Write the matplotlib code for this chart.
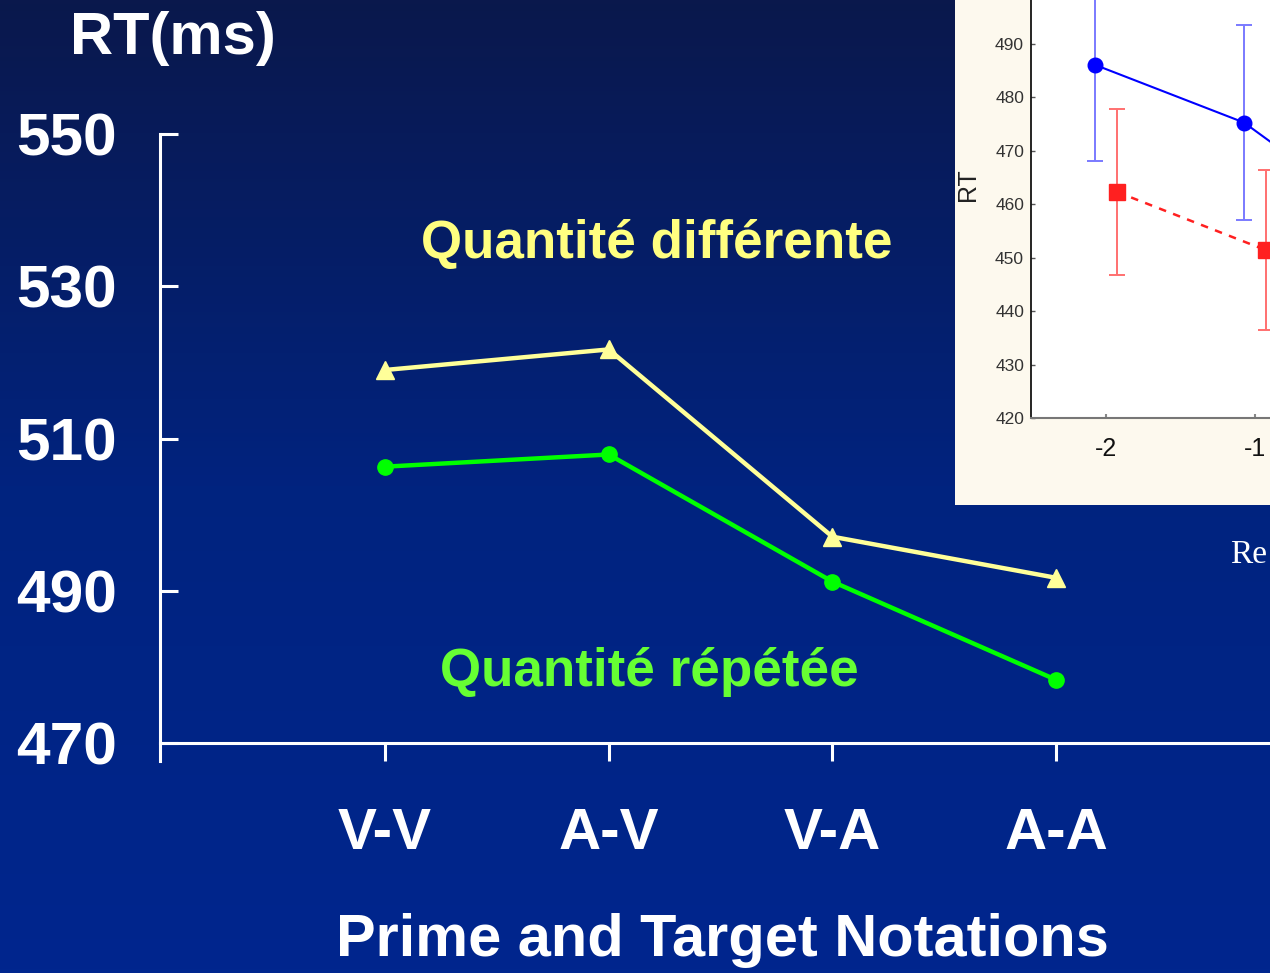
import numpy as np
import matplotlib
matplotlib.use("Agg")
import matplotlib.pyplot as plt
from matplotlib.colors import LinearSegmentedColormap
from matplotlib.patches import Rectangle

plt.rcParams["axes.unicode_minus"] = False

# ---------------- data ----------------
categories = ["V-V", "A-V", "V-A", "A-A"]
rt_different = [519.0, 521.7, 497.1, 491.7]   # Quantité différente
rt_repeated = [506.3, 507.9, 491.2, 478.3]    # Quantité répétée
y_ticks = [470, 490, 510, 530, 550]

# inset (partially visible)
inset_x = [-2, -1, 0]
inset_blue = [486.1, 475.3, 455.0]
inset_blue_err = [18.0, 18.3, 18.0]
inset_red_x = [-2, -1]
inset_red = [462.3, 451.4]
inset_red_err = [15.6, 15.0]
inset_yticks = [420, 430, 440, 450, 460, 470, 480, 490]
inset_xticks = [-2, -1, 0]

W, H = 1270, 973
fig = plt.figure(figsize=(W / 100, H / 100), dpi=100)

# background gradient
bg = fig.add_axes([0, 0, 1, 1], zorder=0)
cmap = LinearSegmentedColormap.from_list("bg", ["#0A184C", "#01237F", "#00268E"])
grad = np.linspace(0, 1, 256).reshape(-1, 1)
bg.imshow(grad, aspect="auto", cmap=cmap, extent=[0, 1, 0, 1], origin="upper")
bg.set_axis_off()

FONT = "Liberation Sans"

# ---------------- main axes ----------------
x0_px, right_px = 160, 1270
top_px, bot_px = 134, 761
ax = fig.add_axes([x0_px / W, 1 - bot_px / H, (right_px - x0_px) / W, (bot_px - top_px) / H], zorder=1)
ax.patch.set_alpha(0)
xs = np.arange(len(categories))
spacing = 223.7
ax.set_xlim(-(385 - x0_px) / spacing, (right_px - 385) / spacing)
px_per_ms = (743 - 134) / 80.0
ax.set_ylim(550 - (bot_px - top_px) / px_per_ms, 550)

ax.plot(xs, rt_different, color="#FFFF99", lw=3.2, marker="^", ms=13, clip_on=False, zorder=3)
ax.plot(xs, rt_repeated, color="#00FF00", lw=3.2, marker="o", ms=11, clip_on=False, zorder=3)

for s in ["top", "right"]:
    ax.spines[s].set_visible(False)
ax.spines["left"].set_color("white")
ax.spines["left"].set_linewidth(2.2)
ax.spines["bottom"].set_color("white")
ax.spines["bottom"].set_linewidth(2.2)
ax.spines["bottom"].set_position(("data", 470))

ax.set_yticks(y_ticks)
ax.set_yticklabels([str(v) for v in y_ticks])
ax.tick_params(axis="y", direction="in", length=13, width=2.2, color="white",
               labelcolor="white", labelsize=43.5, pad=31)
ax.set_xticks(xs)
ax.set_xticklabels(categories)
ax.tick_params(axis="x", direction="out", length=13, width=2.2, color="white",
               labelcolor="white", labelsize=42, pad=33)
for lab in ax.get_xticklabels() + ax.get_yticklabels():
    lab.set_fontfamily(FONT)
    lab.set_fontweight("bold")

fig.text(173 / W, 1 - 38 / H, "RT(ms)", color="white", fontsize=43, fontweight="bold",
         family=FONT, ha="center", va="center")
fig.text(722 / W, 1 - 940 / H, "Prime and Target Notations", color="white", fontsize=42.8,
         fontweight="bold", family=FONT, ha="center", va="center")
fig.text(657 / W, 1 - 244 / H, "Quantité différente", color="#FFFF80", fontsize=38.2,
         fontweight="bold", family=FONT, ha="center", va="center")
fig.text(649 / W, 1 - 672 / H, "Quantité répétée", color="#66FF33", fontsize=38.2,
         fontweight="bold", family=FONT, ha="center", va="center")
fig.text(1230 / W, 1 - 555 / H, "Re", color="white", fontsize=24, family="Liberation Serif",
         ha="left", va="center")

# ---------------- inset ----------------
panel = Rectangle((955 / W, 1 - 505 / H), (W - 955) / W, 505 / H, transform=fig.transFigure,
                  facecolor="#FDF9EE", edgecolor="none", zorder=4)
fig.patches.append(panel)

upx = 149.0
ypx = (418 - 44) / 70.0
ylo, yhi = 420, 515
ix_left = 1031
xlo = -2 - (1106 - ix_left) / upx
xhi = 1.5
iax = fig.add_axes([ix_left / W, 1 - 418 / H, (xhi - xlo) * upx / W, (yhi - ylo) * ypx / H], zorder=5)
iax.set_facecolor("white")
iax.set_xlim(xlo, xhi)
iax.set_ylim(ylo, yhi)

bx = np.array(inset_x) - 0.074
rx = np.array(inset_red_x) + 0.075
iax.errorbar(bx, inset_blue, yerr=inset_blue_err, color="#0000FF", ecolor="#7A7AFF",
             elinewidth=1.4, capsize=6, capthick=1.4, lw=1.5, marker="o", ms=10.5)
iax.errorbar(rx, inset_red, yerr=inset_red_err, color="#FF2020", ecolor="#FF7070",
             elinewidth=1.4, capsize=6, capthick=1.4, lw=1.8, ls=(0, (3, 3)), marker="s", ms=12)

for s in ["top", "right"]:
    iax.spines[s].set_visible(False)
iax.spines["left"].set_color("black")
iax.spines["left"].set_linewidth(1.2)
iax.spines["bottom"].set_color("#777777")
iax.spines["bottom"].set_linewidth(1.5)
iax.set_yticks(inset_yticks)
iax.set_xticks(inset_xticks)
iax.tick_params(axis="y", direction="in", length=3, width=1, color="#555555",
                labelcolor="#333333", labelsize=12.5, pad=5)
iax.tick_params(axis="x", direction="in", length=3, width=1.5, color="#888888",
                labelcolor="#111111", labelsize=18, pad=14)
for lab in iax.get_xticklabels() + iax.get_yticklabels():
    lab.set_fontfamily(FONT)
fig.text(968 / W, 1 - 185 / H, "RT", rotation=90, color="#222222", fontsize=18, family=FONT,
         ha="center", va="center", zorder=6)

fig.savefig("out.png", dpi=100)
